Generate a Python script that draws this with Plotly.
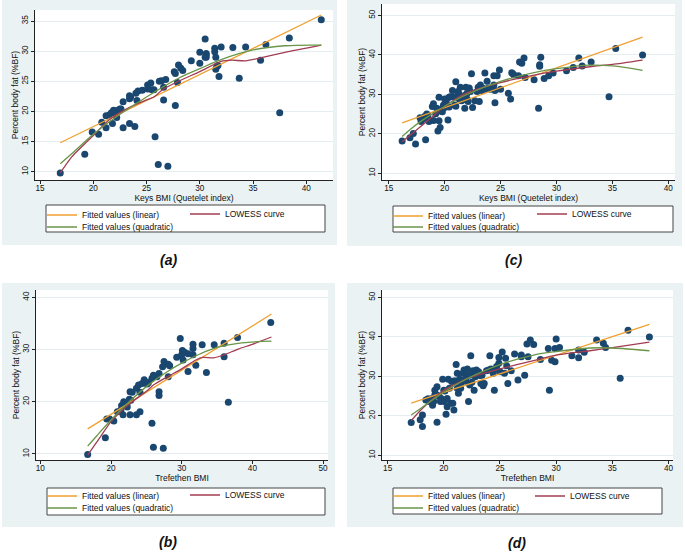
import plotly.graph_objects as go

W, H = 685, 552
FONT = "Liberation Sans, Arial, sans-serif"
NAVY = "#1a476f"
ORANGE = "#f0a030"
MAROON = "#a23c52"
GREEN = "#6a9548"
BG = "#eaf2f3"

# (a) Keys BMI vs percent body fat
keys_a = [16.9, 19.2, 19.9, 20.5, 20.8, 21.2, 21.2, 21.5, 21.7, 21.8, 21.9, 22.1, 22.2, 22.3,
          22.5, 22.6, 22.8, 22.8, 23.4, 23.4, 23.5, 23.4, 23.9, 24.0, 24.1, 24.2, 24.6, 25.1,
          25.1, 25.4, 25.5, 25.7, 25.8, 26.1, 26.2, 26.4, 26.6, 26.6, 26.8, 27.0, 27.6, 27.7,
          27.7, 27.9, 28.0, 28.2, 28.4, 29.2, 30.0, 30.0, 30.5, 30.6, 30.6, 30.6, 30.5, 31.4,
          31.4, 31.5, 31.5, 31.6, 31.7, 31.8, 32.0, 33.1, 33.7, 34.3, 35.7, 36.2, 37.5, 38.4, 41.4]
bf_a = [9.8, 12.9, 16.6, 16.2, 18.2, 19.3, 17.3, 19.4, 19.8, 18.0, 20.2, 19.6, 19.0, 20.2,
        20.4, 20.4, 21.6, 17.3, 22.6, 22.1, 22.3, 18.0, 17.5, 23.0, 21.8, 23.4, 23.5, 24.4,
        23.7, 24.7, 23.6, 23.6, 15.8, 11.2, 25.0, 25.1, 24.0, 21.9, 25.3, 10.9, 26.6, 26.3,
        21.0, 24.8, 27.7, 27.2, 26.8, 28.4, 29.8, 28.0, 32.0, 29.4, 29.0, 29.6, 29.0, 30.5,
        29.9, 29.0, 27.0, 27.5, 27.6, 25.8, 30.7, 30.6, 25.5, 30.7, 28.5, 31.1, 19.8, 32.2, 35.2]
lin_a_x = [16.9, 41.4]
lin_a_y = [14.8, 36.0]
quad_a_x = [16.9, 18, 20, 22, 25, 28, 30, 32, 35, 38, 41.4]
quad_a_y = [11.3, 13.0, 16.2, 18.9, 22.4, 25.5, 27.1, 28.6, 30.2, 30.9, 31.0]
low_a_x = [16.9, 18, 20, 21.5, 23, 25, 25.7, 26.5, 28, 30, 32, 33, 34.3, 36, 38, 41.4]
low_a_y = [9.8, 12.5, 16.0, 18.6, 20.3, 21.9, 22.4, 23.6, 25.0, 26.6, 28.3, 28.5, 28.4, 29.0, 29.8, 31.0]

# (b) Trefethen BMI vs percent body fat
tref_b = [16.7, 19.2, 19.4, 19.8, 20.4, 20.9, 21.4, 21.5, 21.7, 21.8, 21.9, 22.1, 22.3, 22.4,
          22.7, 22.7, 22.8, 22.6, 23.0, 23.6, 23.6, 23.9, 24.1, 24.1, 24.4, 24.7, 25.1, 25.3,
          25.8, 25.8, 26.0, 26.0, 26.5, 26.8, 26.8, 26.8, 27.4, 27.3, 27.5, 28.1, 28.1, 28.3,
          29.3, 29.8, 30.0, 30.1, 30.2, 30.4, 30.9, 30.9, 31.6, 31.6, 31.6, 32.0, 32.9, 33.5,
          34.6, 36.0, 36.0, 36.6, 37.9, 42.6]
bf_b = [9.9, 13.1, 16.7, 16.7, 16.3, 18.1, 18.4, 19.3, 17.5, 20.0, 19.4, 19.6, 19.0, 20.0,
        21.9, 17.5, 20.3, 20.5, 21.8, 17.5, 22.6, 23.2, 18.1, 21.8, 23.5, 24.2, 23.4, 23.7,
        24.5, 15.9, 11.3, 25.1, 24.8, 21.9, 21.2, 25.4, 11.1, 26.7, 27.7, 24.8, 27.2, 26.9,
        28.5, 32.1, 29.0, 29.8, 28.0, 29.5, 29.2, 25.8, 31.0, 30.2, 29.0, 27.0, 30.9, 25.6,
        30.9, 31.2, 28.6, 19.9, 32.3, 35.2]
lin_b_x = [16.7, 42.7]
lin_b_y = [14.8, 36.8]
quad_b_x = [16.7, 18, 20, 22.5, 25, 28, 30, 32.5, 35, 38, 42.7]
quad_b_y = [11.5, 13.5, 16.5, 19.9, 22.9, 25.8, 27.4, 29.1, 30.4, 31.2, 31.6]
low_b_x = [16.7, 18, 20, 21.5, 23, 25, 26, 28, 30, 32, 33, 34.5, 36, 38, 40, 42.7]
low_b_y = [9.8, 12.3, 16.2, 18.3, 20.0, 22.0, 23.2, 24.8, 26.3, 28.0, 28.5, 28.4, 29.0, 30.1, 31.0, 32.4]

# (c) Keys BMI vs percent body fat, second sample
keys_c = [16.2, 16.9, 17.2, 17.4, 17.8, 17.9, 18.1, 18.2, 18.3, 18.4, 18.5, 18.6, 18.7, 18.9,
          19.0, 19.0, 19.2, 19.3, 19.4, 19.5, 19.5, 19.6, 19.8, 19.8, 19.9, 20.0, 20.0, 20.2,
          20.2, 20.3, 20.4, 20.5, 20.7, 20.8, 20.9, 21.0, 21.1, 21.2, 21.3, 21.3, 21.4, 21.5,
          21.6, 21.6, 21.8, 21.9, 21.9, 22.0, 22.1, 22.2, 22.3, 22.4, 22.5, 22.7, 22.9, 23.0,
          23.1, 23.2, 23.4, 23.6, 23.6, 23.8, 23.9, 24.1, 24.4, 24.4, 24.5, 24.5, 24.7, 24.9,
          25.0, 25.7, 25.9, 26.0, 26.1, 26.2, 26.6, 26.7, 26.9, 27.1, 27.2, 28.0, 28.4, 28.5,
          28.5, 28.6, 28.9, 29.3, 29.7, 30.9, 31.5, 32.0, 32.3, 33.1, 34.7, 35.3, 37.7,
          21.0, 20.4, 19.6, 22.0, 23.3, 21.7]
bf_c = [18.2, 19.0, 20.1, 17.4, 24.1, 23.1, 23.8, 24.4, 18.5, 25.0, 24.8, 23.1, 23.4, 26.9,
        27.6, 23.4, 25.1, 26.5, 20.7, 23.3, 29.3, 21.6, 26.5, 25.6, 27.3, 28.8, 26.7, 27.3,
        28.8, 23.5, 29.3, 29.4, 31.0, 29.4, 27.3, 33.2, 29.4, 30.7, 28.8, 30.1, 31.8, 28.4,
        29.4, 28.6, 26.5, 31.8, 29.9, 28.8, 28.2, 31.6, 30.7, 35.2, 26.7, 28.4, 30.7, 31.8,
        28.2, 32.4, 31.6, 35.4, 31.3, 33.3, 31.6, 31.3, 34.7, 32.4, 27.9, 31.0, 34.7, 36.2,
        31.3, 30.3, 28.8, 35.5, 35.2, 34.9, 34.7, 38.2, 37.9, 39.2, 34.3, 33.7, 26.5, 37.5,
        37.1, 39.4, 34.0, 34.7, 35.4, 36.0, 36.8, 39.2, 37.2, 38.2, 29.4, 41.6, 40.0,
        27.0, 26.8, 25.8, 30.2, 31.0, 29.0]
lin_c_x = [16.2, 37.7]
lin_c_y = [22.8, 44.5]
quad_c_x = [16.2, 17, 18, 20, 22, 25, 28, 30, 33, 35, 37.7]
quad_c_y = [19.3, 21.3, 23.4, 27.0, 30.0, 33.3, 35.5, 36.5, 37.4, 37.2, 36.1]
low_c_x = [16.2, 17, 18, 19, 20, 21, 22, 23, 25, 28, 30, 33, 35, 37.7]
low_c_y = [18.0, 19.8, 22.2, 24.6, 26.9, 28.9, 30.4, 31.4, 33.0, 34.9, 35.9, 37.0, 37.6, 38.7]

# (d) Trefethen BMI vs percent body fat, second sample
tref_d = [17.1, 17.9, 18.1, 18.1, 18.4, 18.6, 18.7, 18.9, 19.0, 19.1, 19.2, 19.2, 19.4, 19.4,
          19.4, 19.6, 19.7, 19.8, 19.9, 20.0, 20.0, 20.1, 20.2, 20.3, 20.3, 20.4, 20.5, 20.6,
          20.7, 20.8, 20.9, 20.9, 21.0, 21.1, 21.2, 21.2, 21.3, 21.4, 21.5, 21.5, 21.7, 21.8,
          21.9, 22.0, 22.0, 22.1, 22.2, 22.3, 22.3, 22.4, 22.5, 22.6, 22.7, 22.8, 22.9, 23.1,
          23.2, 23.3, 23.4, 23.5, 23.6, 23.8, 24.0, 24.1, 24.2, 24.4, 24.5, 24.6, 24.7, 24.9,
          24.9, 25.0, 25.2, 25.4, 25.5, 25.6, 25.7, 26.0, 26.3, 26.6, 26.9, 26.9, 27.2, 27.4,
          27.5, 27.7, 28.0, 28.6, 29.3, 29.4, 29.6, 29.9, 29.9, 30.0, 30.3, 31.4, 32.0, 32.0,
          32.5, 33.6, 34.2, 34.4, 35.7, 36.4, 38.3]
bf_d = [18.3, 19.0, 20.2, 17.3, 24.0, 24.3, 23.6, 24.3, 22.7, 23.6, 25.3, 26.5, 27.4, 18.4,
        25.3, 24.9, 23.6, 24.3, 29.3, 26.5, 23.6, 26.3, 20.4, 22.3, 24.4, 29.3, 27.0, 23.2,
        28.7, 23.2, 28.8, 21.5, 28.8, 33.0, 27.0, 30.8, 25.7, 29.3, 27.0, 28.2, 30.8, 31.6,
        29.3, 28.7, 30.2, 31.9, 23.6, 27.8, 30.3, 35.2, 28.5, 31.4, 26.5, 29.9, 31.6, 31.2,
        30.2, 28.2, 30.3, 27.6, 28.2, 31.4, 31.6, 35.2, 31.9, 30.8, 26.5, 31.8, 32.5, 33.3,
        34.8, 31.2, 36.2, 30.8, 34.6, 32.7, 28.2, 31.4, 35.7, 29.1, 35.4, 35.0, 30.3, 38.2,
        35.0, 39.2, 38.1, 34.3, 37.1, 26.5, 34.1, 33.7, 37.1, 39.5, 37.3, 35.2, 34.7, 36.7,
        36.1, 39.2, 38.4, 37.3, 29.5, 41.7, 40.0]
lin_d_x = [17.1, 38.3]
lin_d_y = [23.2, 43.2]
quad_d_x = [17.1, 18, 20, 22, 25, 28, 30, 33, 35, 38.3]
quad_d_y = [20.2, 22.0, 26.0, 29.3, 33.0, 35.4, 36.3, 37.2, 37.2, 36.5]
low_d_x = [17.1, 18, 19, 20, 21, 22, 23, 25, 28, 30, 33, 35, 38.3]
low_d_y = [18.8, 21.6, 24.2, 26.5, 28.0, 29.4, 30.3, 31.9, 34.0, 35.4, 36.5, 37.3, 38.7]

y_title = "Percent body fat (%BF)"


def fx(p):
    return p / W


def fy(p):
    return 1 - p / H


# panel layout in page pixels: plot box, grey frame, legend box, legend rows, label
panels = [
    dict(s="", data=(keys_a, bf_a, lin_a_x, lin_a_y, quad_a_x, quad_a_y, low_a_x, low_a_y),
         plot=(35, 333, 10, 180), xr=[14.53, 42.5], yr=[8.62, 36.83],
         xt=[15, 20, 25, 30, 35, 40], yt=[10, 15, 20, 25, 30, 35],
         xtitle="Keys BMI (Quetelet index)", frame=(2, 337, 0, 245), lbox=(46, 325, 205, 232),
         lx=(52, 195), ly=(215, 227, 214), label="(a)", lab=(168, 260)),
    dict(s="2", data=(keys_c, bf_c, lin_c_x, lin_c_y, quad_c_x, quad_c_y, low_c_x, low_c_y),
         plot=(382, 675, 4, 180), xr=[14.4, 40.6], yr=[8.3, 52.9],
         xt=[15, 20, 25, 30, 35, 40], yt=[10, 20, 30, 40, 50],
         xtitle="Keys BMI (Quetelet index)", frame=(347, 682, 0, 246), lbox=(393, 673, 206, 232),
         lx=(398, 542), ly=(216, 227, 214), label="(c)", lab=(513, 260)),
    dict(s="3", data=(tref_b, bf_b, lin_b_x, lin_b_y, quad_b_x, quad_b_y, low_b_x, low_b_y),
         plot=(36, 328, 290, 460), xr=[9.39, 50.7], yr=[8.85, 41.4],
         xt=[10, 20, 30, 40, 50], yt=[10, 20, 30, 40],
         xtitle="Trefethen BMI", frame=(2, 335, 283, 527), lbox=(47, 325, 488, 515),
         lx=(52, 195), ly=(496, 508, 495), label="(b)", lab=(168, 542)),
    dict(s="4", data=(tref_d, bf_d, lin_d_x, lin_d_y, quad_d_x, quad_d_y, low_d_x, low_d_y),
         plot=(382, 673, 290, 460), xr=[14.5, 40.4], yr=[8.8, 51.9],
         xt=[15, 20, 25, 30, 35, 40], yt=[10, 20, 30, 40, 50],
         xtitle="Trefethen BMI", frame=(347, 683, 283, 527), lbox=(393, 662, 488, 514),
         lx=(398, 540), ly=(496, 508, 496), label="(d)", lab=(517, 543)),
]

fig = go.Figure()
shapes_bg, shapes_fg, annotations, layout = [], [], [], {}
legend_n = 0

for p in panels:
    s = p["s"]
    xs, ys, lx_, ly_, qx, qy, wx, wy = p["data"]
    xa, ya = "x" + s, "y" + s

    ids = []
    for _ in range(3):
        legend_n += 1
        ids.append("legend" if legend_n == 1 else "legend%d" % legend_n)

    fig.add_trace(go.Scatter(x=xs, y=ys, mode="markers", xaxis=xa, yaxis=ya, showlegend=False,
                             marker=dict(color=NAVY, size=7, line=dict(width=0))))
    fig.add_trace(go.Scatter(x=lx_, y=ly_, mode="lines", xaxis=xa, yaxis=ya,
                             name="Fitted values (linear)", legend=ids[0],
                             line=dict(color=ORANGE, width=1.3)))
    fig.add_trace(go.Scatter(x=wx, y=wy, mode="lines", xaxis=xa, yaxis=ya,
                             name="LOWESS curve", legend=ids[1], line_shape="spline",
                             line=dict(color=MAROON, width=1.3, smoothing=0.6)))
    fig.add_trace(go.Scatter(x=qx, y=qy, mode="lines", xaxis=xa, yaxis=ya,
                             name="Fitted values (quadratic)", legend=ids[2], line_shape="spline",
                             line=dict(color=GREEN, width=1.3)))

    x0, x1, y0, y1 = p["plot"]
    tick_font = dict(family=FONT, size=8.2, color="#111")
    layout["xaxis" + s] = dict(
        domain=[fx(x0), fx(x1)], range=p["xr"], anchor=ya, tickvals=p["xt"],
        showline=True, linecolor="#222", linewidth=1, ticks="outside", ticklen=3,
        tickcolor="#222", showgrid=False, zeroline=False, tickfont=tick_font,
        ticklabelstandoff=-3,
        title=dict(text=p["xtitle"], font=dict(family=FONT, size=8.5, color="#111"), standoff=0),
        automargin=False)
    layout["yaxis" + s] = dict(
        domain=[fy(y1), fy(y0)], range=p["yr"], anchor=xa, tickvals=p["yt"], tickangle=-90,
        showline=True, linecolor="#222", linewidth=1, ticks="outside", ticklen=3,
        tickcolor="#222", showgrid=True, gridcolor="#e4edef", gridwidth=1, zeroline=False,
        tickfont=tick_font,
        title=dict(text=y_title, font=dict(family=FONT, size=8.5, color="#111"), standoff=0),
        automargin=False)

    fx0, fx1, fy0, fy1 = p["frame"]
    shapes_bg.append(dict(type="rect", xref="paper", yref="paper", layer="below",
                          x0=fx(fx0), x1=fx(fx1), y0=fy(fy1), y1=fy(fy0),
                          fillcolor=BG, line=dict(width=0)))
    shapes_fg.append(dict(type="rect", xref=xa + " domain", yref=ya + " domain", layer="below",
                          x0=0, x1=1, y0=0, y1=1, fillcolor="white", line=dict(width=0)))
    bx0, bx1, by0, by1 = p["lbox"]
    shapes_fg.append(dict(type="rect", xref="paper", yref="paper", layer="below",
                          x0=fx(bx0), x1=fx(bx1), y0=fy(by1), y1=fy(by0),
                          fillcolor="white", line=dict(color="#444", width=1)))

    left, right = p["lx"]
    r1, r2, r3 = p["ly"]
    for lid, lxp, lyp in ((ids[0], left, r1), (ids[1], right, r3), (ids[2], left, r2)):
        layout[lid] = dict(x=fx(lxp - 10), y=fy(lyp), xanchor="left", yanchor="middle",
                           bgcolor="rgba(0,0,0,0)", borderwidth=0,
                           font=dict(family=FONT, size=8.5, color="#111"))

    annotations.append(dict(text="<b><i>%s</i></b>" % p["label"], xref="paper", yref="paper",
                            x=fx(p["lab"][0]), y=fy(p["lab"][1]), showarrow=False,
                            xanchor="center", yanchor="middle",
                            font=dict(family=FONT, size=14, color="#111")))

fig.update_layout(
    width=W, height=H, autosize=False,
    margin=dict(l=0, r=0, t=0, b=0),
    paper_bgcolor="white", plot_bgcolor="white",
    shapes=shapes_bg + shapes_fg, annotations=annotations,
    **layout)

# the page body has a default 8px margin; drop it so the figure sits at the window origin
fig.write_html("out.html", config={"displayModeBar": False},
               post_script="document.body.style.margin = '0';")
